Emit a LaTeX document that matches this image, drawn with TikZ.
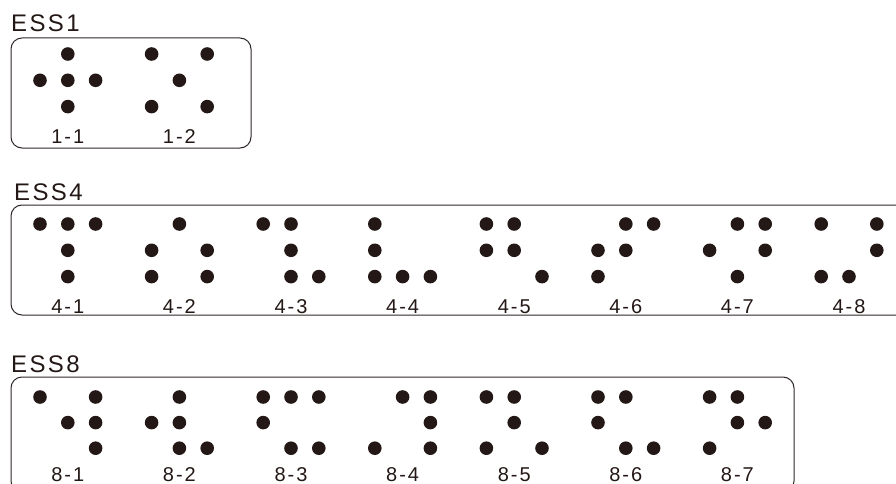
\documentclass[tikz,border=0pt]{standalone}
\usepackage{fontspec}
\setmainfont{Liberation Sans}[LetterSpace=10]
\usepackage{xcolor}
\definecolor{tinta}{RGB}{35,24,21}
\definecolor{marco}{RGB}{45,40,38}
\usepackage{tikz}
\usetikzlibrary{positioning}

\begin{document}
\begin{tikzpicture}[
  x=1pt, y=-1pt,
  dot/.style={circle, fill=tinta, inner sep=0pt, minimum size=13.6pt},
  panel/.style={draw=marco, line width=1pt, rounded corners=11pt},
  title/.style={anchor=base west, inner sep=0pt, text=tinta,
                font=\fontsize{24}{28}\selectfont},
  tag/.style={anchor=base, inner sep=0pt, text=tinta,
              font=\fontsize{20}{24}\selectfont}
]
\useasboundingbox (0,0) rectangle (896,484);
\clip (0,0) rectangle (896,484);

% ESS1
\node[title] (T1) at (11,32) {ESS1};
\draw[panel] (11,38) rectangle (251,148);
\foreach \k/\lab/\pts in {0/1-1/{1/0,0/1,1/1,2/1,1/2},
                          1/1-2/{0/0,2/0,1/1,0/2,2/2}} {
  \foreach \c/\r in \pts
    \node[dot] (d\lab-\c\r) at ({40+111.6*\k+27.8*\c},{54+26.3*\r}) {};
  \node[tag] (L\lab) at ({67.8+111.6*\k},143) {\lab};
}

% ESS4
\node[title] (T4) at (14,200) {ESS4};
\draw[panel] (11,205) rectangle (910,315);
\foreach \k/\lab/\pts in {0/4-1/{0/0,1/0,2/0,1/1,1/2},
                          1/4-2/{1/0,0/1,2/1,0/2,2/2},
                          2/4-3/{0/0,1/0,1/1,1/2,2/2},
                          3/4-4/{0/0,0/1,0/2,1/2,2/2},
                          4/4-5/{0/0,1/0,0/1,1/1,2/2},
                          5/4-6/{1/0,2/0,0/1,1/1,0/2},
                          6/4-7/{1/0,2/0,0/1,2/1,1/2},
                          7/4-8/{0/0,2/0,2/1,0/2,1/2}} {
  \foreach \c/\r in \pts
    \node[dot] (d\lab-\c\r) at ({40+111.6*\k+27.8*\c},{224+26.3*\r}) {};
  \node[tag] (L\lab) at ({67.8+111.6*\k},313) {\lab};
}

% ESS8
\node[title] (T8) at (11,372) {ESS8};
\draw[panel] (11,377) rectangle (794,492);
\foreach \k/\lab/\pts in {0/8-1/{0/0,2/0,1/1,2/1,2/2},
                          1/8-2/{1/0,0/1,1/1,1/2,2/2},
                          2/8-3/{0/0,1/0,2/0,0/1,1/2,2/2},
                          3/8-4/{1/0,2/0,2/1,0/2,2/2},
                          4/8-5/{0/0,1/0,1/1,0/2,2/2},
                          5/8-6/{0/0,1/0,0/1,1/2,2/2},
                          6/8-7/{0/0,1/0,1/1,2/1,0/2}} {
  \foreach \c/\r in \pts
    \node[dot] (d\lab-\c\r) at ({40+111.6*\k+27.8*\c},{397+25.6*\r}) {};
  \node[tag] (L\lab) at ({67.8+111.6*\k},481) {\lab};
}

\end{tikzpicture}
\end{document}
